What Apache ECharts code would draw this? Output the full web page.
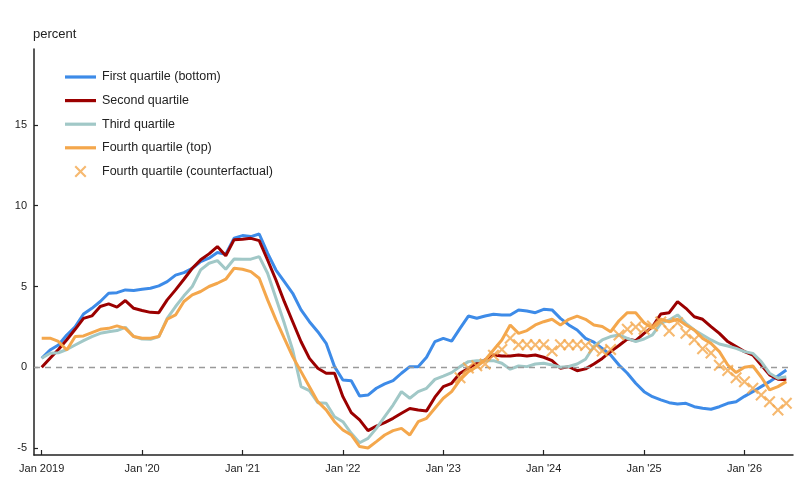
<!DOCTYPE html>
<html>
<head>
<meta charset="utf-8">
<script src="https://cdn.jsdelivr.net/npm/echarts@6/dist/echarts.min.js"></script>
<style>
  html, body { margin: 0; padding: 0; background: #fff; }
  #chart { width: 800px; height: 500px; }
</style>
</head>
<body>
<div id="chart"></div>
<script>
// monthly readings, Jan 2019 (index 0) .. Jun 2026 (index 89)
const firstQuartile = [
  0.56, 1.07, 1.38, 2.0, 2.5, 3.3, 3.65, 4.07, 4.58, 4.62,
  4.79, 4.75, 4.83, 4.89, 5.04, 5.3, 5.7, 5.86, 6.13, 6.54,
  6.75, 7.1, 7.0, 7.99, 8.15, 8.09, 8.25, 7.06, 6.02, 5.3,
  4.58, 3.55, 2.82, 2.2, 1.48, 0.04, -0.79, -0.83, -1.78, -1.72,
  -1.3, -1.03, -0.83, -0.37, 0.04, 0.04, 0.62, 1.59, 1.79, 1.62,
  2.41, 3.17, 3.03, 3.17, 3.28, 3.24, 3.24, 3.55, 3.48, 3.38,
  3.59, 3.55, 3.03, 2.62, 2.31, 1.79, 1.55, 1.17, 0.76, 0.14,
  -0.37, -0.99, -1.51, -1.82, -2.02, -2.19, -2.27, -2.23, -2.44, -2.54,
  -2.6, -2.44, -2.23, -2.13, -1.8, -1.51, -1.2, -0.89, -0.54, -0.17
];
const secondQuartile = [
  0.0, 0.56, 1.1, 1.7, 2.35, 3.03, 3.18, 3.76, 3.92, 3.72,
  4.13, 3.65, 3.51, 3.4, 3.38, 4.17, 4.79, 5.45, 6.13, 6.65,
  7.02, 7.47, 6.9, 7.9, 7.93, 7.98, 7.84, 6.64, 5.4, 4.06,
  2.82, 1.58, 0.55, -0.06, -0.37, -0.37, -1.82, -2.81, -3.26, -3.92,
  -3.64, -3.43, -3.16, -2.85, -2.55, -2.65, -2.7, -1.85, -1.2, -0.99,
  -0.37, -0.06, 0.25, 0.45, 0.76, 0.7, 0.7, 0.76, 0.7, 0.76,
  0.62, 0.41, -0.06, 0.04, -0.21, -0.1, 0.2, 0.55, 0.97, 1.35,
  1.75, 1.65, 2.1, 2.5, 3.3, 3.38, 4.06, 3.65, 3.13, 2.97,
  2.52, 2.1, 1.59, 1.28, 0.97, 0.76, 0.14, -0.47, -0.74, -0.78
];
const thirdQuartile = [
  0.56, 0.87, 0.9, 1.1, 1.38, 1.65, 1.9, 2.1, 2.2, 2.27,
  2.47, 1.9, 1.75, 1.73, 1.9, 3.03, 3.76, 4.42, 5.0, 6.03,
  6.44, 6.6, 6.07, 6.7, 6.69, 6.69, 6.85, 5.82, 4.27, 2.72,
  1.07, -1.2, -1.45, -2.19, -2.23, -3.06, -3.37, -4.09, -4.67, -4.4,
  -3.78, -3.06, -2.34, -1.51, -1.92, -1.51, -1.3, -0.75, -0.55, -0.33,
  0.04, 0.35, 0.41, 0.41, 0.41, 0.25, -0.12, 0.08, 0.04, 0.2,
  0.25, 0.14, 0.0, 0.05, 0.2, 0.5, 1.3, 1.69, 1.9, 2.0,
  1.79, 1.59, 1.75, 2.0, 2.72, 2.93, 3.24, 2.72, 2.31, 2.0,
  1.69, 1.44, 1.32, 1.17, 0.97, 0.86, 0.35, -0.37, -0.68, -0.58
];
const fourthQuartile = [
  1.8, 1.8, 1.6, 1.07, 1.9, 1.94, 2.15, 2.35, 2.41, 2.56,
  2.41, 1.9, 1.8, 1.8, 1.9, 2.97, 3.24, 4.07, 4.48, 4.69,
  5.0, 5.2, 5.45, 6.13, 6.07, 5.92, 5.51, 4.17, 2.93, 1.79,
  0.66, -0.27, -1.2, -2.13, -2.64, -3.37, -3.88, -4.19, -4.91, -5.0,
  -4.6, -4.19, -3.92, -3.78, -4.19, -3.37, -3.16, -2.54, -1.92, -1.51,
  -0.78, -0.27, 0.04, 0.45, 1.07, 1.69, 2.62, 2.1, 2.27, 2.62,
  2.82, 2.97, 2.62, 2.97, 3.17, 2.97, 2.62, 2.52, 2.2, 2.88,
  3.38, 3.38, 2.76, 2.41, 2.97, 2.82, 2.97, 2.62, 2.31, 1.79,
  1.48, 0.97, 0.14, -0.33, 0.0, 0.08, -0.6, -1.4, -1.2, -0.89
];
// counterfactual starts at index 50 (Mar 2023)
const counterStart = 50;
const fourthCounterfactual = [
  -0.65, -0.05, 0.1, 0.2, 0.75, 1.1, 1.8, 1.4, 1.4, 1.4,
  1.4, 1.0, 1.4, 1.4, 1.4, 1.35, 1.2, 1.0, 1.1, 2.0,
  2.35, 2.5, 2.35, 2.55, 2.8, 2.25, 2.75, 2.1, 1.7, 1.15,
  0.88, 0.12, -0.2, -0.65, -0.9, -1.3, -1.72, -2.13, -2.64, -2.23
];
const yearTicks = [0, 12, 24, 36, 48, 60, 72, 84];
const yearLabels = ["Jan 2019", "Jan '20", "Jan '21", "Jan '22", "Jan '23", "Jan '24", "Jan '25", "Jan '26"];
const yTicks = [-5, 0, 5, 10, 15];

const names = ["First quartile (bottom)", "Second quartile", "Third quartile", "Fourth quartile (top)", "Fourth quartile (counterfactual)"];
const colors = ["#3d8be8", "#9b0000", "#a1c8c7", "#f4a74c"];

const toPairs = (vals, start) => vals.map((v, i) => [start + i, v]);

const xMark = 'path://M0,1.5L1.5,0L6,4.5L10.5,0L12,1.5L7.5,6L12,10.5L10.5,12L6,7.5L1.5,12L0,10.5L4.5,6Z';
const lineIcon = 'path://M0,0H31V3.2H0Z';

const dom = document.getElementById('chart');
const myChart = echarts.init(dom, null, { renderer: 'canvas' });

const lineSeries = (idx, vals) => ({
  name: names[idx],
  type: 'line',
  data: toPairs(vals, 0),
  symbol: 'none',
  lineStyle: { color: colors[idx], width: 3 },
  itemStyle: { color: colors[idx] },
  z: 2 + idx,
  silent: true
});

const first = lineSeries(0, firstQuartile);
first.markLine = {
  silent: true,
  symbol: 'none',
  label: { show: false },
  lineStyle: { color: '#9a9a9a', type: [6, 5], width: 1.3 },
  data: [{ yAxis: 0 }]
};

const option = {
  animation: false,
  textStyle: { fontFamily: 'Liberation Sans, Arial, sans-serif' },
  grid: { left: 34, right: 7, top: 49, bottom: 45 },
  legend: {
    orient: 'vertical',
    left: 60,
    top: 65.5,
    itemWidth: 31,
    itemHeight: 12,
    itemGap: 10.6,
    selectedMode: false,
    textStyle: { fontSize: 12.5, color: '#222', padding: [0, 0, 0, 1] },
    data: [
      { name: names[0], icon: lineIcon },
      { name: names[1], icon: lineIcon },
      { name: names[2], icon: lineIcon },
      { name: names[3], icon: lineIcon },
      { name: names[4], icon: xMark }
    ]
  },
  xAxis: {
    type: 'value',
    min: -0.92,
    max: 89.8,
    splitLine: { show: false },
    axisLine: { onZero: false, lineStyle: { color: '#222', width: 1.5 } },
    axisTick: { inside: true, length: 5, customValues: yearTicks, lineStyle: { color: '#222', width: 1.2 } },
    axisLabel: {
      customValues: yearTicks,
      color: '#222',
      fontSize: 11,
      margin: 8,
      formatter: (v) => yearLabels[yearTicks.indexOf(v)]
    }
  },
  yAxis: {
    type: 'value',
    min: -5.43,
    max: 19.7,
    name: 'percent',
    nameLocation: 'end',
    nameGap: 8,
    nameTextStyle: { color: '#222', fontSize: 13, align: 'left', padding: [0, 0, 0, -1] },
    splitLine: { show: false },
    axisLine: { show: true, onZero: false, lineStyle: { color: '#222', width: 1.5 } },
    axisTick: { show: true, inside: true, length: 4, customValues: yTicks, lineStyle: { color: '#222', width: 1.2 } },
    axisLabel: { customValues: yTicks, color: '#222', fontSize: 11, margin: 7 }
  },
  series: [
    first,
    lineSeries(1, secondQuartile),
    lineSeries(2, thirdQuartile),
    lineSeries(3, fourthQuartile),
    {
      name: names[4],
      type: 'scatter',
      data: toPairs(fourthCounterfactual, counterStart),
      symbol: xMark,
      symbolSize: 12,
      itemStyle: { color: colors[3] },
      z: 10,
      silent: true
    }
  ]
};

myChart.setOption(option);
</script>
</body>
</html>
